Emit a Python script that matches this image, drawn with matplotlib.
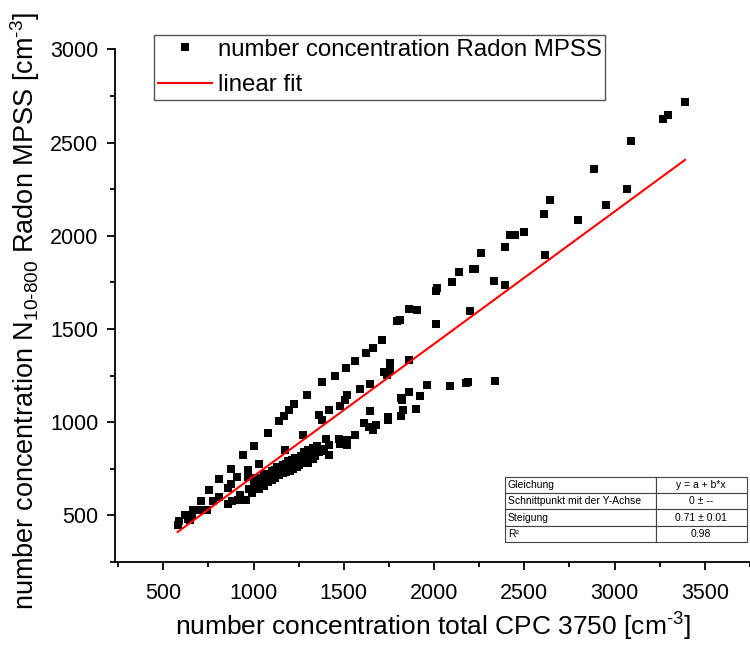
import numpy as np
import matplotlib.pyplot as plt
from matplotlib.lines import Line2D

plt.rcParams['font.family'] = ['Liberation Sans', 'DejaVu Sans']
plt.rcParams['mathtext.fontset'] = 'custom'
plt.rcParams['mathtext.rm'] = 'Liberation Sans'
plt.rcParams['mathtext.it'] = 'Liberation Sans'

# CPC 3750 total number concentration [cm-3]
cpc_total = [
    579, 586, 619, 638, 646, 661, 665, 707, 711, 744, 751, 775, 806, 806, 858, 872, 872, 909,
    940, 968, 968, 1004, 1028, 1078, 1138, 1166, 1197, 1224, 1293, 1381,
    1450, 1510, 1560, 1620, 1660, 1711,
    1797, 1812, 1863, 1907, 2008, 2014, 2098, 2138, 2215, 2228, 2258, 2391, 2420, 2450, 2500,
    2610, 2641, 2885, 3093, 3270, 3298, 3390,
    1274, 1173, 1362, 1381, 1417, 1478, 1509, 1518, 1592, 1647, 1720, 1738, 1753, 1753, 1863,
    2010, 2201, 2331, 2394, 2615, 2799, 2950, 3068,
    1817, 1861, 1922, 1962, 2087, 2175, 2188, 2335, 1817, 1830, 1821, 1898, 1742, 1747, 1643,
    1610, 1637, 1661, 1680, 1560, 1518, 1518, 1472, 1481, 1399, 1417, 1371, 1390, 1417,
    858, 880, 913, 959, 922, 977, 990, 1000, 1010, 1030, 1040, 1050, 1060, 1075, 1080, 1090,
    1100, 1110, 1120, 1130, 1140, 1150, 1160, 1170, 1180, 1190, 1200, 1210, 1220, 1230, 1250,
    1270, 1290, 1300, 1310, 1320, 1330, 1340,
    1000, 1020, 1060, 1100, 1130, 1160, 1190, 1230, 1260, 1280, 1300, 1330, 1350, 1360, 1240,
    1260, 1040, 1120, 1180, 1210,
]

# Radon MPSS N10-800 number concentration [cm-3]
mpss_n = [
    451, 470, 500, 483, 476, 496, 527, 577, 527, 527, 634, 577, 598, 693, 648, 670, 751, 706,
    822, 742, 706, 872, 778, 944, 1005, 1033, 1064, 1096, 1144, 1216,
    1250, 1290, 1330, 1370, 1400, 1443,
    1542, 1547, 1606, 1601, 1704, 1717, 1751, 1806, 1822, 1822, 1908, 1937, 2005, 2005, 2021,
    2116, 2191, 2356, 2508, 2624, 2647, 2715,
    933, 853, 1037, 1010, 1064, 1085, 1117, 1144, 1180, 1207, 1270, 1252, 1279, 1315, 1332,
    1525, 1595, 1758, 1735, 1896, 2084, 2164, 2250,
    1127, 1162, 1143, 1201, 1196, 1210, 1214, 1220, 1031, 1064, 1117, 1069, 1010, 1028, 1060,
    996, 974, 956, 985, 933, 903, 876, 912, 885, 912, 876, 845, 858, 822,
    563, 575, 581, 581, 608, 640, 620, 660, 650, 640, 670, 690, 660, 700, 680, 710,
    690, 720, 700, 730, 715, 740, 725, 745, 735, 760, 740, 770, 750, 780, 770,
    790, 800, 780, 810, 830, 800, 820,
    700, 690, 720, 740, 760, 770, 790, 810, 820, 840, 850, 860, 870, 840, 760,
    780, 700, 745, 775, 795,
]

# linear fit through origin
slope = 0.71
fit_table = [
    ['Gleichung', 'y = a + b*x'],
    ['Schnittpunkt mit der Y-Achse', '0 \u00b1 --'],
    ['Steigung', '0.71 \u00b1 0.01'],
    ['R\u00b2', '0.98'],
]

x = np.array(cpc_total)
y = np.array(mpss_n)
fit_x = np.array([x.min(), x.max()])

fig = plt.figure(figsize=(7.5, 6.46), dpi=100)
ax = fig.add_axes([115 / 750, 84 / 646, 635 / 750, 512.7 / 646])

ax.plot(x, y, 's', color='black', markersize=5.8, markeredgewidth=0, zorder=3)
ax.plot(fit_x, slope * fit_x, color='red', linewidth=1.5, zorder=4)

ax.set_xlim(232, 3737)
ax.set_ylim(250, 3000)
ax.set_xticks(np.arange(500, 3501, 500))
ax.set_xticks(np.arange(250, 3751, 500), minor=True)
ax.set_yticks(np.arange(500, 3001, 500))
ax.set_yticks(np.arange(250, 3001, 500), minor=True)
for side in ['top', 'right']:
    ax.spines[side].set_visible(False)
for side in ['left', 'bottom']:
    ax.spines[side].set_linewidth(1.3)
ax.tick_params(which='major', direction='out', length=6, width=1.3, labelsize=15.5)
ax.tick_params(axis='x', which='major', pad=9)
ax.tick_params(axis='y', which='major', pad=6)
ax.tick_params(which='minor', direction='out', length=3.5, width=1.3)

ax.set_xlabel('number concentration total CPC 3750 [cm$^{\u20103}$]', fontsize=19, labelpad=5)
ax.set_ylabel('number concentration N$_{10\u2010800}$ Radon MPSS [cm$^{\u20103}$]', fontsize=19.5)
ax.yaxis.set_label_coords(-0.115, 0.49)

handles = [
    Line2D([], [], marker='s', linestyle='none', color='black', markersize=5.8, markeredgewidth=0),
    Line2D([], [], color='red', linewidth=1.5),
]
leg = ax.legend(handles, ['number concentration Radon MPSS', 'linear fit'],
                loc='upper left', bbox_to_anchor=(0.0614, 1.028), fontsize=17.3,
                frameon=True, fancybox=False, edgecolor='#555555', framealpha=1,
                handlelength=2.25, handletextpad=0.25, borderpad=0.15, labelspacing=0.58,
                borderaxespad=0)
leg.get_frame().set_linewidth(1.0)

tab = ax.table(cellText=fit_table, colWidths=[0.623, 0.377],
               bbox=[0.614, 0.039, 0.381, 0.127], zorder=5)
tab.auto_set_font_size(False)
for (r, c), cell in tab.get_celld().items():
    cell.set_fontsize(7.5)
    cell.set_edgecolor('#444444')
    cell.set_linewidth(0.8)
    cell.get_text().set_ha('left' if c == 0 else 'center')
    if c == 0:
        cell.PAD = 0.02

fig.savefig('out.png', dpi=100)
